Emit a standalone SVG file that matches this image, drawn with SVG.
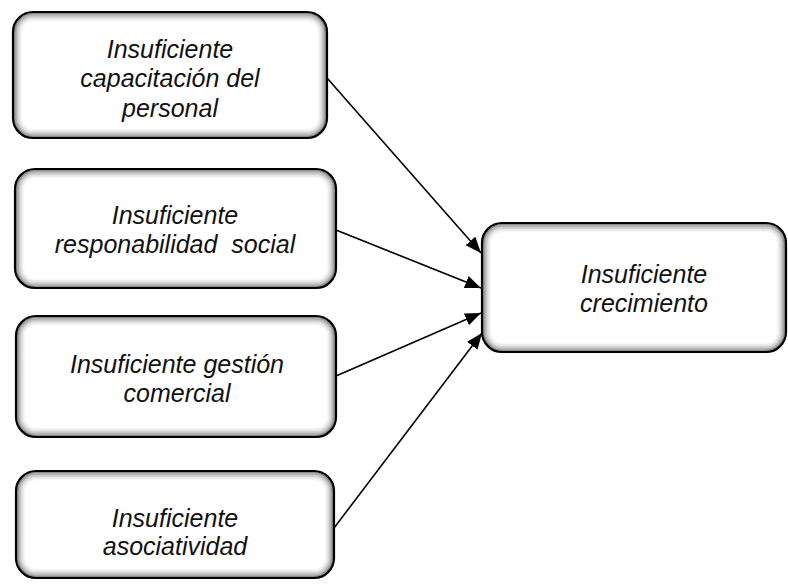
<svg xmlns="http://www.w3.org/2000/svg" width="788" height="586" viewBox="0 0 788 586">
<style>
.box{fill:#fff}
.edge{fill:none;stroke:#000;stroke-width:2.2}
.sh{fill:none;stroke:#000;stroke-width:1.5}
.g1{stroke-opacity:.45}
.g2{stroke-opacity:.32}
.g3{stroke-opacity:.21}
.g4{stroke-opacity:.13}
.g5{stroke-opacity:.07}
.g6{stroke-opacity:.03}
.lbl{font-family:"Liberation Sans",Arial,sans-serif;font-style:italic;font-size:25px;fill:#111;text-anchor:middle}
.conn{stroke:#000;stroke-width:1.6;fill:none;marker-end:url(#arr)}
</style>
<defs>
<marker id="arr" markerUnits="userSpaceOnUse" markerWidth="18" markerHeight="14" refX="16" refY="6.5" orient="auto">
<path d="M0,0 L16,6.5 L0,13 Z" fill="#000"/>
</marker>
</defs>
<g id="connectors">
<line class="conn" x1="327" y1="78" x2="481" y2="253"/>
<line class="conn" x1="336" y1="230" x2="481" y2="288"/>
<line class="conn" x1="336" y1="376" x2="481" y2="313"/>
<line class="conn" x1="334" y1="528" x2="482" y2="333"/>
</g>
<g id="n1">
<rect class="box" x="13" y="12" width="314" height="126" rx="20"/>
<rect class="sh g1" x="14.6" y="13.6" width="310.8" height="122.8" rx="18.4"/>
<rect class="sh g2" x="16" y="15" width="308" height="120" rx="17"/>
<rect class="sh g3" x="17.4" y="16.4" width="305.2" height="117.2" rx="15.6"/>
<rect class="sh g4" x="18.8" y="17.8" width="302.4" height="114.4" rx="14.2"/>
<rect class="sh g5" x="20.2" y="19.2" width="299.6" height="111.6" rx="12.8"/>
<rect class="sh g6" x="21.6" y="20.6" width="296.8" height="108.8" rx="11.4"/>
<rect class="edge" x="13" y="12" width="314" height="126" rx="20"/>
<text class="lbl" x="170" y="58">Insuficiente</text>
<text class="lbl" x="170" y="87">capacitación del</text>
<text class="lbl" x="170" y="117">personal</text>
</g>
<g id="n2">
<rect class="box" x="15" y="169" width="321" height="119" rx="20"/>
<rect class="sh g1" x="16.6" y="170.6" width="317.8" height="115.8" rx="18.4"/>
<rect class="sh g2" x="18" y="172" width="315" height="113" rx="17"/>
<rect class="sh g3" x="19.4" y="173.4" width="312.2" height="110.2" rx="15.6"/>
<rect class="sh g4" x="20.8" y="174.8" width="309.4" height="107.4" rx="14.2"/>
<rect class="sh g5" x="22.2" y="176.2" width="306.6" height="104.6" rx="12.8"/>
<rect class="sh g6" x="23.6" y="177.6" width="303.8" height="101.8" rx="11.4"/>
<rect class="edge" x="15" y="169" width="321" height="119" rx="20"/>
<text class="lbl" x="175" y="224">Insuficiente</text>
<text class="lbl" x="175" y="253" xml:space="preserve">responabilidad  social</text>
</g>
<g id="n3">
<rect class="box" x="16" y="316" width="320" height="121" rx="20"/>
<rect class="sh g1" x="17.6" y="317.6" width="316.8" height="117.8" rx="18.4"/>
<rect class="sh g2" x="19" y="319" width="314" height="115" rx="17"/>
<rect class="sh g3" x="20.4" y="320.4" width="311.2" height="112.2" rx="15.6"/>
<rect class="sh g4" x="21.8" y="321.8" width="308.4" height="109.4" rx="14.2"/>
<rect class="sh g5" x="23.2" y="323.2" width="305.6" height="106.6" rx="12.8"/>
<rect class="sh g6" x="24.6" y="324.6" width="302.8" height="103.8" rx="11.4"/>
<rect class="edge" x="16" y="316" width="320" height="121" rx="20"/>
<text class="lbl" x="177" y="373">Insuficiente gestión</text>
<text class="lbl" x="177" y="402">comercial</text>
</g>
<g id="n4">
<rect class="box" x="16" y="471" width="318" height="107" rx="20"/>
<rect class="sh g1" x="17.6" y="472.6" width="314.8" height="103.8" rx="18.4"/>
<rect class="sh g2" x="19" y="474" width="312" height="101" rx="17"/>
<rect class="sh g3" x="20.4" y="475.4" width="309.2" height="98.2" rx="15.6"/>
<rect class="sh g4" x="21.8" y="476.8" width="306.4" height="95.4" rx="14.2"/>
<rect class="sh g5" x="23.2" y="478.2" width="303.6" height="92.6" rx="12.8"/>
<rect class="sh g6" x="24.6" y="479.6" width="300.8" height="89.8" rx="11.4"/>
<rect class="edge" x="16" y="471" width="318" height="107" rx="20"/>
<text class="lbl" x="175" y="527">Insuficiente</text>
<text class="lbl" x="175" y="555">asociatividad</text>
</g>
<g id="n5">
<rect class="box" x="482" y="223" width="304" height="129" rx="20"/>
<rect class="sh g1" x="483.6" y="224.6" width="300.8" height="125.8" rx="18.4"/>
<rect class="sh g2" x="485" y="226" width="298" height="123" rx="17"/>
<rect class="sh g3" x="486.4" y="227.4" width="295.2" height="120.2" rx="15.6"/>
<rect class="sh g4" x="487.8" y="228.8" width="292.4" height="117.4" rx="14.2"/>
<rect class="sh g5" x="489.2" y="230.2" width="289.6" height="114.6" rx="12.8"/>
<rect class="sh g6" x="490.6" y="231.6" width="286.8" height="111.8" rx="11.4"/>
<rect class="edge" x="482" y="223" width="304" height="129" rx="20"/>
<text class="lbl" x="644" y="283">Insuficiente</text>
<text class="lbl" x="644" y="312">crecimiento</text>
</g>
</svg>
